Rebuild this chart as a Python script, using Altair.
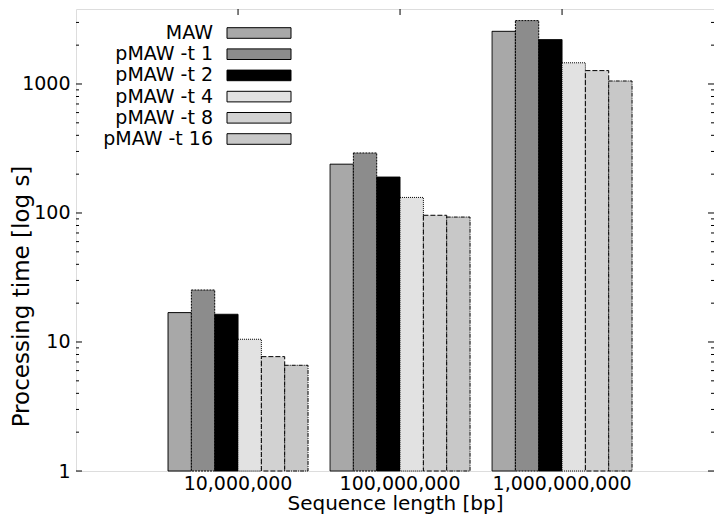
import altair as alt
import pandas as pd

groups = ["10,000,000", "100,000,000", "1,000,000,000"]
series = ["MAW", "pMAW -t 1", "pMAW -t 2", "pMAW -t 4", "pMAW -t 8", "pMAW -t 16"]

maw = [16.9, 239, 2560]
t1 = [25.3, 292, 3100]
t2 = [16.4, 190, 2210]
t4 = [10.5, 132, 1460]
t8 = [7.7, 96, 1270]
t16 = [6.6, 93, 1055]

major_ticks = [1, 10, 100, 1000]
minor_ticks = [2, 3, 4, 5, 6, 7, 8, 9,
               20, 30, 40, 50, 60, 70, 80, 90,
               200, 300, 400, 500, 600, 700, 800, 900,
               2000, 3000]

fills = ["#a8a8a8", "#8c8c8c", "#000000", "#e2e2e2", "#d2d2d2", "#c8c8c8"]
dashes = [[1, 0], [2, 1], [1, 0], [1, 1], [5, 2], [4, 1, 1, 1]]

W, H = 638, 462
Y_TOP = 3813

rows = []
for s, vals in zip(series, [maw, t1, t2, t4, t8, t16]):
    for g, v in zip(groups, vals):
        rows.append({"group": g, "series": s, "value": v})
df = pd.DataFrame(rows)

font = "DejaVu Sans"
ylog = alt.Scale(type="log", domain=[1, Y_TOP], nice=False)
xscale = alt.Scale(domain=groups, paddingInner=0.136, paddingOuter=0.537,
                   align=0.529, round=False)
fill_scale = alt.Scale(domain=series, range=fills)
dash_scale = alt.Scale(domain=series, range=dashes)

xaxis = alt.Axis(title="Sequence length [bp]", labelAngle=0, ticks=False,
                 domain=False, labelPadding=3, labelFontSize=19, labelFont=font,
                 titleFontSize=20, titleFontWeight="normal", titleFont=font,
                 titleBaseline="alphabetic", titleY=38)

bars = alt.Chart(df).mark_bar(stroke="black", strokeWidth=1).encode(
    x=alt.X("group:N", sort=groups, scale=xscale, axis=xaxis),
    xOffset=alt.XOffset("series:N", sort=series,
                        scale=alt.Scale(domain=series, paddingInner=0, paddingOuter=0)),
    y=alt.Y("value:Q", scale=ylog,
            axis=alt.Axis(title="Processing time [log s]", values=major_ticks, format="d",
                          ticks=False, domain=False, grid=False, labelPadding=6,
                          labelFontSize=19, labelFont=font, titleFont=font,
                          titleFontSize=23, titleFontWeight="normal",
                          titleAngle=-90, titleBaseline="alphabetic", titleAlign="center",
                          titleX=-48, titleY=287)),
    y2=alt.datum(1),
    fill=alt.Fill("series:N", scale=fill_scale, legend=None),
    strokeDash=alt.StrokeDash("series:N", scale=dash_scale, legend=None),
)

minor_df = pd.DataFrame({"v": minor_ticks})
major_df = pd.DataFrame({"v": major_ticks})

def tick_layer(d, x0, x1):
    return alt.Chart(d).mark_rule(color="black", strokeWidth=1).encode(
        y=alt.Y("v:Q", scale=ylog, axis=None),
        x=alt.value(x0), x2=alt.value(x1))

minor_l = tick_layer(minor_df, 0, 3)
minor_r = tick_layer(minor_df, W - 3, W)
major_l = tick_layer(major_df, 0, 6)
major_r = tick_layer(major_df, W - 6, W)

top_ticks = alt.Chart(pd.DataFrame({"group": groups})).mark_rule(
    color="black", strokeWidth=1).encode(
    x=alt.X("group:N", sort=groups, scale=xscale, axis=xaxis),
    y=alt.value(0), y2=alt.value(6))

leg_df = pd.DataFrame({"series": series})
leg_y = alt.Y("series:N", sort=series, axis=None,
              scale=alt.Scale(domain=series, range=[13.4, 140.6],
                              paddingInner=0.5, paddingOuter=0.25))

leg_rect = alt.Chart(leg_df).mark_rect(stroke="black", strokeWidth=1).encode(
    x=alt.value(151), x2=alt.value(215), y=leg_y,
    fill=alt.Fill("series:N", scale=fill_scale, legend=None),
    strokeDash=alt.StrokeDash("series:N", scale=dash_scale, legend=None),
)
leg_text = alt.Chart(leg_df).mark_text(
    align="right", baseline="middle", fontSize=19, font=font, color="black").encode(
    x=alt.value(137), y=leg_y, text="series:N")

chart = alt.layer(
    bars, minor_l, minor_r, major_l, major_r, top_ticks, leg_rect, leg_text
).resolve_scale(y="independent").properties(
    width=W, height=H,
    autosize=alt.AutoSizeParams(type="none"),
    padding={"left": 68, "top": 1, "right": 0, "bottom": 44},
).configure_view(
    stroke="black", strokeWidth=1.5
).configure_axis(
    labelFont=font, titleFont=font, labelColor="black", titleColor="black"
).configure(background="white")

chart.save("out.html", embed_options={"renderer": "svg", "actions": False})
